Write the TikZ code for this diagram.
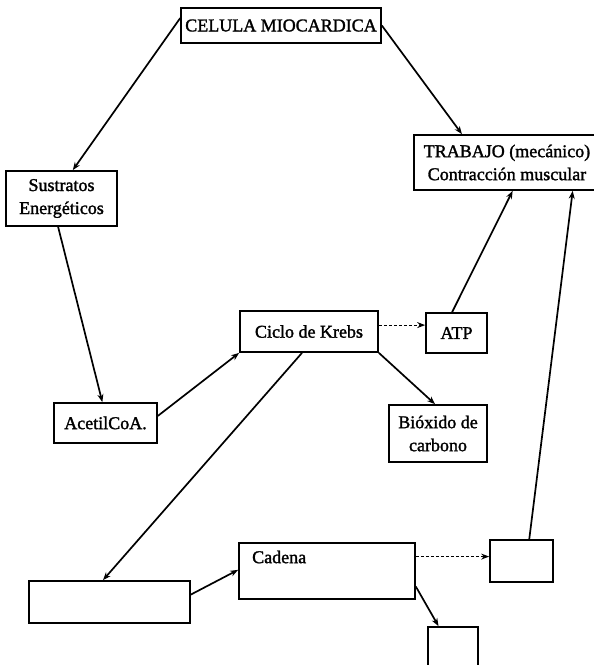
\documentclass[tikz,border=0pt]{standalone}
\usepackage{fontspec}
\setmainfont{Liberation Serif}[BoldFont={Liberation Serif}, BoldFeatures={FakeBold=1.6}]
\usetikzlibrary{arrows.meta,calc}

\tikzset{
  box/.style={draw, line width=1.7pt, inner sep=0pt, align=center,
              font=\fontsize{18}{23}\selectfont\bfseries},
  label text/.style={inner sep=0pt, font=\fontsize{18}{23}\selectfont\bfseries},
  link/.style={line width=1.7pt, -{Stealth[length=8pt,width=6pt]}},
  dlink/.style={line width=1.2pt, densely dashed, -{Stealth[length=8pt,width=6pt]}}
}

\begin{document}
\begin{tikzpicture}[x=1pt, y=-1pt]
\useasboundingbox (0,0) rectangle (594,665);
\fill[white] (0,0) rectangle (594,665);
\clip (0,0) rectangle (594,665);

% boxes
\node[box, minimum width=200, minimum height=35] (cel) at (281,25.5) {CELULA MIOCARDICA};
\node[box, minimum width=111, minimum height=55] (sus) at (61.5,198.5) {Sustratos\\Energéticos};
\node[box, minimum width=186, minimum height=55] (tra) at (507,162.5) {TRABAJO (mecánico)\\Contracción muscular};
\node[box, minimum width=138, minimum height=41] (krebs) at (309,331.5) {Ciclo de Krebs};
\node[box, minimum width=61, minimum height=40] (atp) at (456.5,333) {ATP};
\node[box, minimum width=98, minimum height=57] (bio) at (438,433.5) {Bióxido de\\carbono};
\node[box, minimum width=103, minimum height=40] (ace) at (105.5,423) {AcetilCoA.};
\node[box, minimum width=161, minimum height=42] (empty1) at (109.5,602) {};
\node[box, minimum width=176, minimum height=56] (cad) at (327,571) {};
\node[label text, anchor=west] (cadtext) at (252,557) {Cadena};
\node[box, minimum width=63, minimum height=42] (small1) at (521.5,561) {};
\node[box, minimum width=50, minimum height=43] (small2) at (453,648.5) {};

% connectors
\draw[link] ($(cel.north west)!0.3!(cel.south west)$) -- ($(sus.north west)!0.6!(sus.north east)$);
\draw[link] (cel.east) -- ($(tra.north west)!0.26!(tra.north east)$);
\draw[link] ($(sus.south west)!0.47!(sus.south east)$) -- ($(ace.north west)!0.47!(ace.north east)$);
\draw[link] ($(ace.north east)!0.33!(ace.south east)$) -- (krebs.south west);
\draw[link] ($(krebs.south west)!0.45!(krebs.south east)$) -- ($(empty1.north west)!0.46!(empty1.north east)$);
\coordinate (kr) at ($(krebs.north east)!0.35!(krebs.south east)$);
\draw[dlink] (kr) -- (kr -| atp.west);
\draw[link] (krebs.south east) -- ($(bio.north west)!0.47!(bio.north east)$);
\draw[link] ($(atp.north west)!0.43!(atp.north east)$) -- ($(tra.south west)!0.53!(tra.south east)$);
\draw[link] ($(empty1.north east)!0.33!(empty1.south east)$) -- ($(cad.north west)!0.48!(cad.south west)$);
\coordinate (cr) at ($(cad.north east)!0.25!(cad.south east)$);
\draw[dlink] (cr) -- (cr -| small1.west);
\draw[link] ($(cad.north east)!0.77!(cad.south east)$) -- ($(small2.north west)!0.22!(small2.north east)$);
\draw[link] ($(small1.north west)!0.62!(small1.north east)$) -- ($(tra.south west)!0.85!(tra.south east)$);
\end{tikzpicture}
\end{document}
